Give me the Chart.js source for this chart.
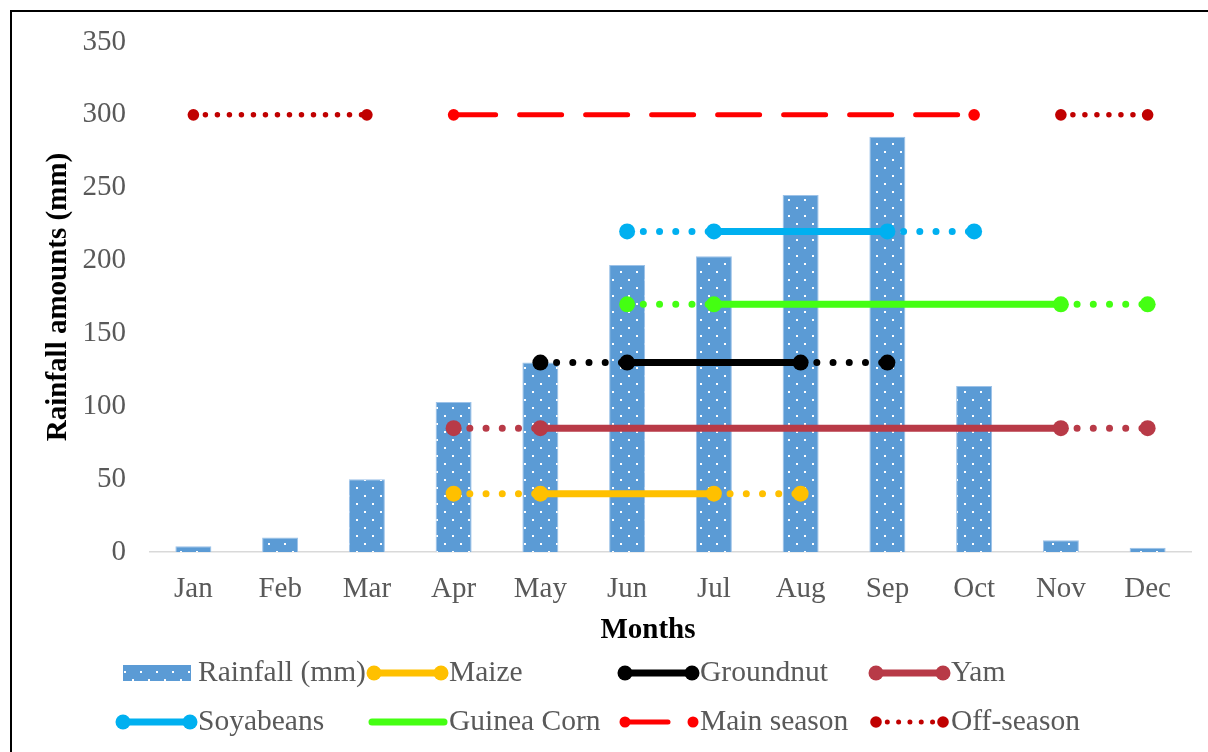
<!DOCTYPE html>
<html>
<head>
<meta charset="utf-8">
<title>Monthly rainfall and crop calendar</title>
<script src="https://cdn.jsdelivr.net/npm/chart.js@4.4.1/dist/chart.umd.min.js"></script>
<style>
  html, body { margin: 0; padding: 0; background: #ffffff; }
  #wrap { position: relative; width: 1208px; height: 752px; }
</style>
</head>
<body>
<div id="wrap"><canvas id="chart" width="1208" height="752"></canvas></div>
<script>
// ---- data ----
const months = ['Jan', 'Feb', 'Mar', 'Apr', 'May', 'Jun', 'Jul', 'Aug', 'Sep', 'Oct', 'Nov', 'Dec'];
const rainfall = [4, 10, 50, 103, 130, 197, 203, 245, 285, 114, 8, 3];
const yTicks = [0, 50, 100, 150, 200, 250, 300, 350];

// Crop calendars: the whole window is drawn (dotted ends), the main span is solid
const maize      = [null, null, null, 40, 40, 40, 40, 40, null, null, null, null];
const maizeMain  = ['May', 'Jul'];
const groundnut  = [null, null, null, null, 130, 130, 130, 130, 130, null, null, null];
const groundnutMain = ['Jun', 'Aug'];
const yam        = [null, null, null, 85, 85, 85, 85, 85, 85, 85, 85, 85];
const yamMain    = ['May', 'Nov'];
const soyabeans  = [null, null, null, null, null, 220, 220, 220, 220, 220, null, null];
const soyabeansMain = ['Jul', 'Sep'];
const guineaCorn = [null, null, null, null, null, 170, 170, 170, 170, 170, 170, 170];
const guineaCornMain = ['Jul', 'Nov'];

// Rainy seasons
const mainSeason = [null, null, null, 300, 300, 300, 300, 300, 300, 300, null, null];
const offSeason  = [300, 300, 300, null, null, null, null, null, null, null, 300, 300];

// ---- styling helpers ----
const SERIF = '"Liberation Serif", "Times New Roman", serif';
const GREY_TEXT = '#595959';
const BAR_BLUE = '#5B9BD5';

function dottedFill(ctx) {
  const tile = document.createElement('canvas');
  tile.width = 16; tile.height = 16;
  const g = tile.getContext('2d');
  g.fillStyle = BAR_BLUE;
  g.fillRect(0, 0, 16, 16);
  g.fillStyle = '#ffffff';
  g.fillRect(12, 15, 2, 1); g.fillRect(12, 0, 2, 1);
  g.fillRect(4, 7, 2, 2);
  return ctx.createPattern(tile, 'repeat');
}

// true at the first/last point of every unbroken run
function runEnds(values) {
  return values.map((v, i) => v !== null &&
    (i === 0 || values[i - 1] === null || i === values.length - 1 || values[i + 1] === null));
}

function cropDataset(label, color, values, mainSpan) {
  const a = months.indexOf(mainSpan[0]);
  const b = months.indexOf(mainSpan[1]);
  const ends = runEnds(values);
  const marked = i => ends[i] || i === a || i === b;
  return {
    type: 'line', label, data: values, order: 0,
    borderColor: color, backgroundColor: color,
    borderWidth: 7, borderCapStyle: 'round', borderJoinStyle: 'round',
    pointRadius: c => marked(c.dataIndex) ? 8 : 0,
    pointHoverRadius: c => marked(c.dataIndex) ? 8 : 0,
    pointBorderWidth: 0,
    spanGaps: false, tension: 0,
    segment: {
      borderDash: c => (c.p0DataIndex >= a && c.p1DataIndex <= b) ? [] : [0.01, 16.2]
    },
    legendKind: 'crop'
  };
}

function seasonDataset(label, color, values, width, dash, legendKind) {
  const ends = runEnds(values);
  return {
    type: 'line', label, data: values, order: 0,
    borderColor: color, backgroundColor: color,
    borderWidth: width, borderCapStyle: 'round', borderDash: dash,
    pointRadius: c => ends[c.dataIndex] ? 5.8 : 0,
    pointHoverRadius: c => ends[c.dataIndex] ? 5.8 : 0,
    pointBorderWidth: 0,
    spanGaps: false, tension: 0,
    legendKind
  };
}

const canvas = document.getElementById('chart');
const ctx = canvas.getContext('2d');

const datasets = [
  {
    type: 'bar', label: 'Rainfall (mm)', data: rainfall, order: 1,
    backgroundColor: dottedFill(ctx), borderColor: '#9cc2e8', borderWidth: 1,
    barPercentage: 0.415, categoryPercentage: 1.0,
    legendKind: 'bar'
  },
  cropDataset('Maize', '#FFC000', maize, maizeMain),
  cropDataset('Groundnut', '#000000', groundnut, groundnutMain),
  cropDataset('Yam', '#B83A47', yam, yamMain),
  cropDataset('Soyabeans', '#00B0F0', soyabeans, soyabeansMain),
  Object.assign(cropDataset('Guinea Corn', '#44FF12', guineaCorn, guineaCornMain), { legendKind: 'plain' }),
  seasonDataset('Main season', '#FF0000', mainSeason, 5, [42, 24], 'main'),
  seasonDataset('Off-season', '#C00000', offSeason, 5.5, [0.01, 12], 'off')
];

// ---- frame, x-axis title and legend ----
const legendCols = [123, 374, 625, 876];
const legendRows = [673, 722];

function dot(g, x, y, r, color) {
  g.beginPath(); g.arc(x, y, r, 0, Math.PI * 2); g.fillStyle = color; g.fill();
}

function drawSymbol(g, ds, x0, y) {
  const color = ds.borderColor;
  g.save();
  g.lineCap = 'round';
  switch (ds.legendKind) {
    case 'bar':
      g.fillStyle = ds.backgroundColor;
      g.fillRect(x0, y - 8, 68, 16);
      break;
    case 'crop':
      g.strokeStyle = color; g.lineWidth = 7;
      g.beginPath(); g.moveTo(x0, y); g.lineTo(x0 + 67, y); g.stroke();
      dot(g, x0, y, 7.5, color); dot(g, x0 + 67, y, 7.5, color);
      break;
    case 'plain':
      g.strokeStyle = color; g.lineWidth = 7;
      g.beginPath(); g.moveTo(x0 - 2, y); g.lineTo(x0 + 70, y); g.stroke();
      break;
    case 'main':
      g.strokeStyle = color; g.lineWidth = 5;
      g.beginPath(); g.moveTo(x0, y); g.lineTo(x0 + 43, y); g.stroke();
      dot(g, x0, y, 5.5, color); dot(g, x0 + 68, y, 5.5, color);
      break;
    case 'off':
      g.strokeStyle = color; g.lineWidth = 5; g.setLineDash([0.01, 11.3]);
      g.beginPath(); g.moveTo(x0, y); g.lineTo(x0 + 67, y); g.stroke();
      dot(g, x0, y, 5.8, color); dot(g, x0 + 67, y, 5.8, color);
      break;
  }
  g.restore();
}

const decorations = {
  id: 'decorations',
  afterDraw(chart) {
    const g = chart.ctx;
    g.save();
    // chart frame
    g.strokeStyle = '#000000'; g.lineWidth = 2;
    g.strokeRect(11, 11, 1400, 1000);
    // x-axis title
    g.fillStyle = '#000000';
    g.font = 'bold 29px ' + SERIF;
    g.textAlign = 'center'; g.textBaseline = 'middle';
    g.fillText('Months', 648, 631);
    // legend
    g.font = '29.5px ' + SERIF;
    g.textAlign = 'left';
    chart.data.datasets.forEach((ds, i) => {
      const x0 = legendCols[i % 4];
      const y = legendRows[Math.floor(i / 4)];
      drawSymbol(g, ds, x0, y);
      g.fillStyle = GREY_TEXT;
      g.fillText(ds.label, x0 + 75, y);
    });
    g.restore();
  }
};

new Chart(ctx, {
  type: 'bar',
  data: { labels: months, datasets },
  plugins: [decorations],
  options: {
    responsive: false,
    animation: false,
    events: [],
    layout: { padding: { left: 0, right: 17, top: 42, bottom: 100 } },
    plugins: { legend: { display: false }, tooltip: { enabled: false } },
    scales: {
      x: {
        offset: true,
        grid: { display: false, drawTicks: false },
        border: { display: true, color: '#d9d9d9', width: 1.5 },
        ticks: { color: GREY_TEXT, font: { family: SERIF, size: 29 }, padding: 20 },
        afterFit(scale) { scale.height = 100; }
      },
      y: {
        min: 0, max: 350,
        grid: { display: false, drawTicks: false },
        border: { display: false },
        ticks: { color: GREY_TEXT, font: { family: SERIF, size: 29 }, padding: 24 },
        afterBuildTicks(scale) { scale.ticks = yTicks.map(v => ({ value: v })); },
        title: {
          display: true, text: 'Rainfall amounts (mm)', color: '#000000',
          font: { family: SERIF, size: 29, weight: 'bold' },
          padding: { top: 41, bottom: 0 }
        },
        afterFit(scale) { scale.width = 150; }
      }
    }
  }
});
</script>
</body>
</html>
